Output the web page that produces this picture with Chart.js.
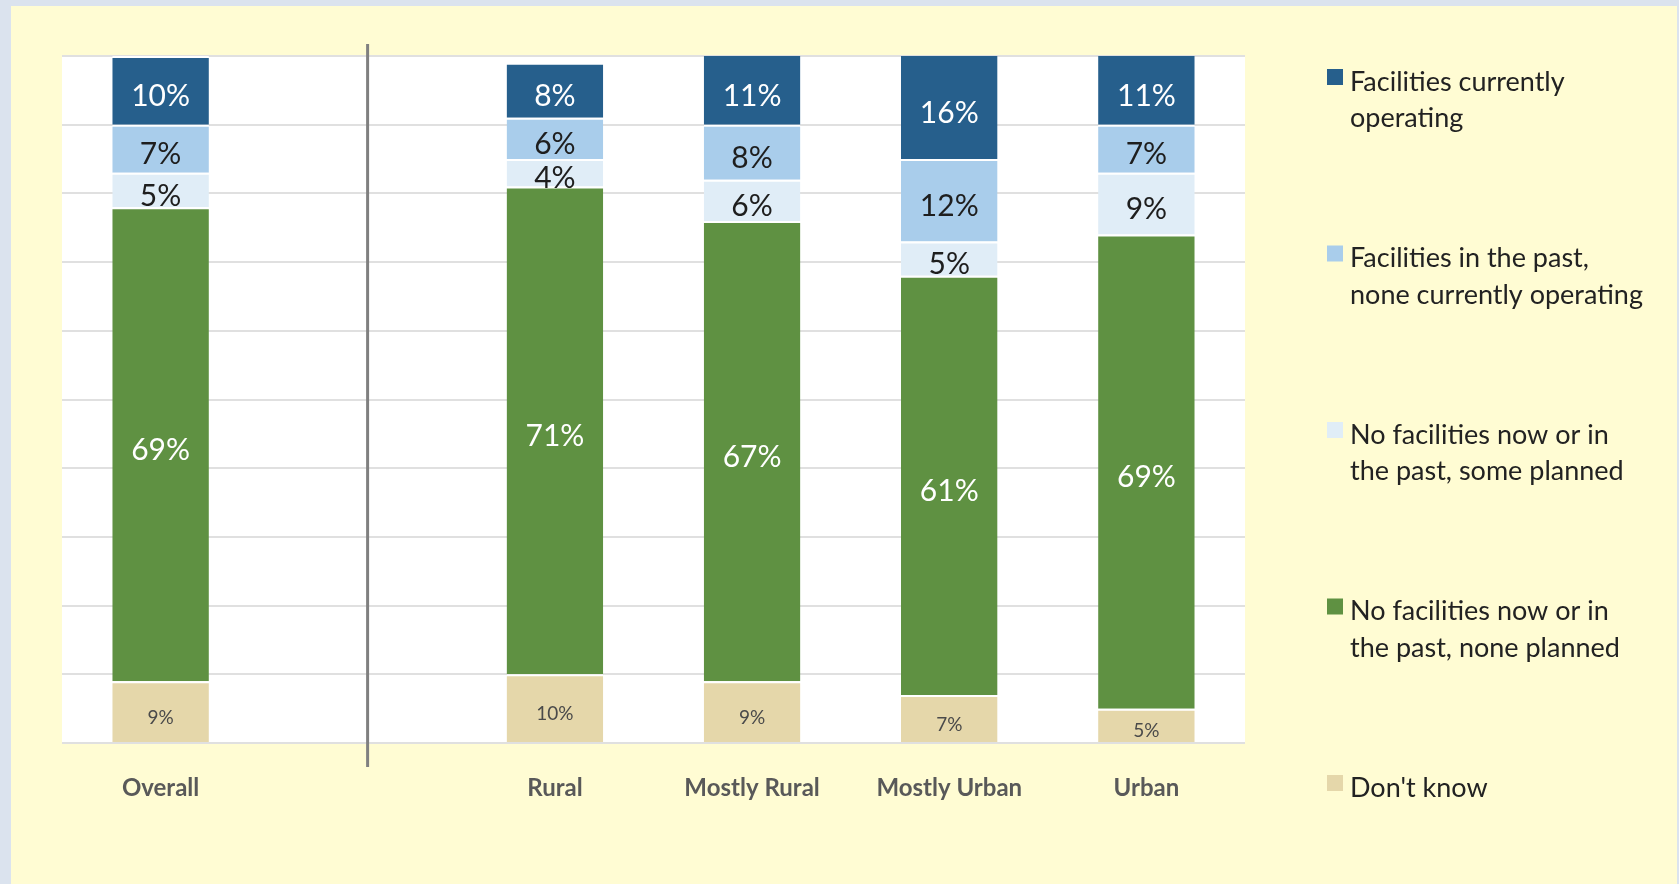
<!DOCTYPE html>
<html>
<head>
<meta charset="utf-8">
<script src="https://cdn.jsdelivr.net/npm/chart.js@4"></script>
<style>
  html, body { margin: 0; padding: 0; background: #dbe3ee; }
  canvas { display: block; }
</style>
</head>
<body>
<canvas id="stackChart" width="1679" height="884"></canvas>
<script>
// categories (second slot is an empty spacer between Overall and the groups)
const categories = ['Overall', '', 'Rural', 'Mostly Rural', 'Mostly Urban', 'Urban'];

// series, bottom to top
const dontKnow     = [9,  null, 10,  9,  7,  5];
const nonePlanned  = [69, null, 71, 67, 61, 69];
const somePlanned  = [5,  null,  4,  6,  5,  9];
const pastOnly     = [7,  null,  6,  8, 12,  7];
const operatingNow = [10, null,  8, 11, 16, 11];

const seriesNames = [
    "Don't know",
    'No facilities now or in the past, none planned',
    'No facilities now or in the past, some planned',
    'Facilities in the past, none currently operating',
    'Facilities currently operating'
];
// legend text split the way it wraps in the original
const legendLines = [
    ['Facilities currently', 'operating'],
    ['Facilities in the past,', 'none currently operating'],
    ['No facilities now or in', 'the past, some planned'],
    ['No facilities now or in', 'the past, none planned'],
    ["Don't know"]
];

const colors = ['#e5d7aa', '#5f9142', '#e0edf7', '#a9cdeb', '#265f8c'];
const labelColors = ['#4a4a4a', '#ffffff', '#1e1e1e', '#1e1e1e', '#ffffff'];

document.addEventListener('DOMContentLoaded', function(){
    const ctx = document.getElementById('stackChart').getContext('2d');

    // page panel + white plot area
    const backdrop = {
        id: 'backdrop',
        beforeDraw(chart) {
            const c = chart.ctx, a = chart.chartArea;
            c.save();
            c.fillStyle = '#dbe3ee';
            c.fillRect(0, 0, chart.width, chart.height);
            c.fillStyle = '#fffcd3';
            c.fillRect(11, 6, chart.width - 13, chart.height - 6);
            c.fillStyle = '#ffffff';
            c.fillRect(a.left, a.top, a.right - a.left, a.bottom - a.top);
            c.restore();
        }
    };

    // percentage labels centred in each visible segment
    const segLabels = {
        id: 'segLabels',
        afterDatasetsDraw(chart) {
            const c = chart.ctx, a = chart.chartArea;
            c.save();
            c.textAlign = 'center';
            c.textBaseline = 'middle';
            chart.data.datasets.forEach((ds, di) => {
                const meta = chart.getDatasetMeta(di);
                meta.data.forEach((bar, i) => {
                    const v = ds.data[i];
                    if (v == null) return;
                    const top = Math.max(a.top, Math.min(bar.y, bar.base));
                    const bot = Math.min(a.bottom, Math.max(bar.y, bar.base));
                    const y = (top + bot) / 2;
                    c.fillStyle = labelColors[di];
                    c.font = di === 0 ? '19px Lato' : '30px Lato';
                    c.fillText(v + '%', bar.x, y + 6);
                });
            });
            c.restore();
        }
    };

    // grey divider between Overall and the groups
    const divider = {
        id: 'divider',
        afterDraw(chart) {
            const c = chart.ctx, x = chart.scales.x.getPixelForValue(1.05);
            c.save();
            c.strokeStyle = '#808080';
            c.lineWidth = 3;
            c.beginPath();
            c.moveTo(x, chart.chartArea.top - 12);
            c.lineTo(x, chart.chartArea.bottom + 24);
            c.stroke();
            c.restore();
        }
    };

    // legend on the right, top series first
    const sideLegend = {
        id: 'sideLegend',
        afterDraw(chart) {
            const c = chart.ctx;
            const x0 = 1327, y0 = 69, step = 176.5;
            c.save();
            c.textBaseline = 'middle';
            c.textAlign = 'left';
            c.font = '27px Lato';
            legendLines.forEach((lines, k) => {
                const di = colors.length - 1 - k;
                const y = y0 + k * step;
                c.fillStyle = colors[di];
                c.fillRect(x0, y, 16, 16);
                c.fillStyle = '#222222';
                lines.forEach((t, li) => c.fillText(t, x0 + 23, y + 13 + li * 36.5));
            });
            c.restore();
        }
    };

    const datasets = [dontKnow, nonePlanned, somePlanned, pastOnly, operatingNow].map((d, i) => ({
        label: seriesNames[i],
        data: d,
        backgroundColor: colors[i],
        borderColor: '#ffffff',
        borderWidth: { top: 2, bottom: 0, left: 0, right: 0 },
        borderSkipped: false,
        barPercentage: 0.49,
        categoryPercentage: 1,
        clip: 0
    }));

    new Chart(ctx, {
        type: 'bar',
        data: { labels: categories, datasets: datasets },
        options: {
            responsive: false,
            animation: false,
            layout: { padding: { left: 62, top: 56, right: 434, bottom: 51 } },
            scales: {
                x: {
                    stacked: true,
                    grid: { display: false },
                    border: { display: false },
                    ticks: {
                        color: '#595959',
                        font: { family: 'Lato', size: 24, weight: 'bold' },
                        padding: 23,
                        maxRotation: 0
                    },
                    afterFit(s) { s.height = 90; }
                },
                y: {
                    stacked: true,
                    min: 0,
                    max: 100,
                    ticks: { display: false, stepSize: 10 },
                    grid: { color: '#e0e0e0', lineWidth: 2, drawTicks: false },
                    border: { display: false },
                    afterFit(s) { s.width = 0; }
                }
            },
            plugins: {
                legend: { display: false },
                tooltip: { enabled: false }
            }
        },
        plugins: [backdrop, segLabels, divider, sideLegend]
    });
});
</script>
</body>
</html>
